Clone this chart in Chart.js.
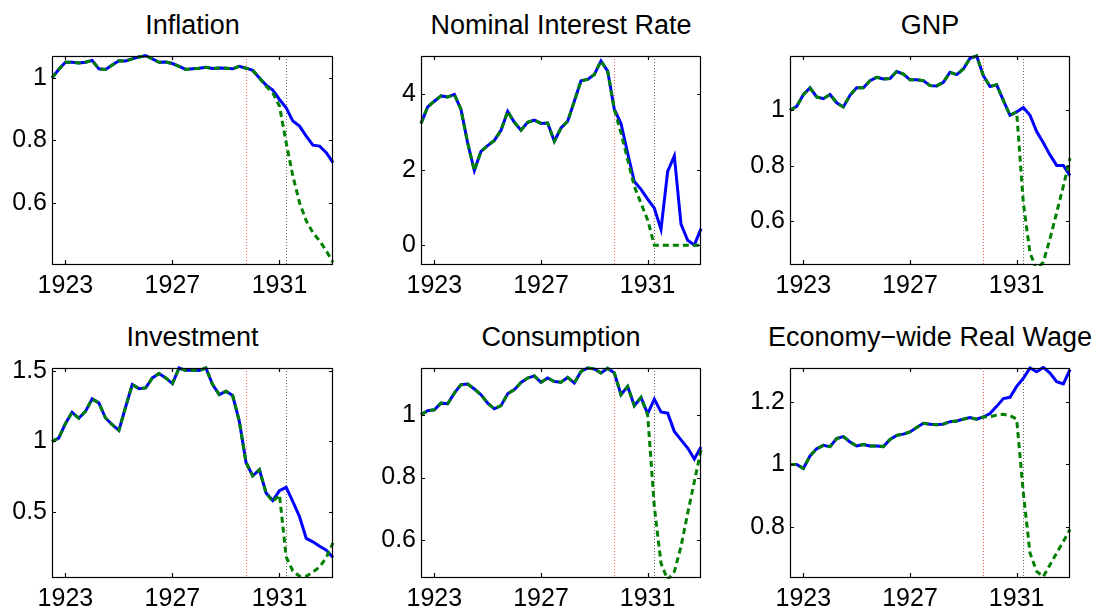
<!DOCTYPE html>
<html>
<head>
<meta charset="utf-8">
<script src="https://cdn.jsdelivr.net/npm/chart.js@4.4.1/dist/chart.umd.min.js"></script>
<style>
  html, body { margin: 0; padding: 0; background: #fff; }
  body { width: 1112px; height: 611px; position: relative; overflow: hidden;
         font-family: "Liberation Sans", Arial, Helvetica, sans-serif; }
  .panel { position: absolute; }
  .title { position: absolute; text-align: center; font-size: 27px; line-height: 30px;
           color: #000; white-space: nowrap; }
</style>
</head>
<body>
<script>
// Quarterly dates, 1922Q3 .. 1933Q1
const quarters = [
  1922.5, 1922.75, 1923, 1923.25, 1923.5, 1923.75, 1924, 1924.25, 1924.5, 1924.75,
  1925, 1925.25, 1925.5, 1925.75, 1926, 1926.25, 1926.5, 1926.75, 1927, 1927.25,
  1927.5, 1927.75, 1928, 1928.25, 1928.5, 1928.75, 1929, 1929.25, 1929.5, 1929.75,
  1930, 1930.25, 1930.5, 1930.75, 1931, 1931.25, 1931.5, 1931.75, 1932, 1932.25,
  1932.5, 1932.75, 1933
];
const yearTicks = [1923, 1927, 1931];
const breakDates = [1929.75, 1931.25];

// Inflation (price level index)
const inflationData = [
  1.0, 1.027, 1.05, 1.05, 1.048, 1.05, 1.056, 1.029, 1.027, 1.041,
  1.055, 1.054, 1.061, 1.067, 1.071, 1.061, 1.05, 1.051, 1.046, 1.037,
  1.027, 1.029, 1.031, 1.034, 1.03, 1.032, 1.031, 1.029, 1.037, 1.031,
  1.024, 1.0, 0.977, 0.961, 0.931, 0.904, 0.862, 0.846, 0.814, 0.785,
  0.782, 0.761, 0.729
];
const inflationModel = [
  1.0, 1.027, 1.05, 1.05, 1.048, 1.05, 1.056, 1.029, 1.027, 1.041,
  1.055, 1.054, 1.061, 1.067, 1.071, 1.061, 1.05, 1.051, 1.046, 1.037,
  1.027, 1.029, 1.031, 1.034, 1.03, 1.032, 1.031, 1.029, 1.037, 1.031,
  1.024, 1.0, 0.973, 0.952, 0.91, 0.793, 0.686, 0.601, 0.543, 0.505,
  0.479, 0.447, 0.41
];

// Nominal interest rate
const interestData = [
  3.23, 3.67, 3.82, 3.96, 3.93, 4.0, 3.6, 2.71, 1.98, 2.49,
  2.64, 2.78, 3.05, 3.55, 3.26, 3.05, 3.26, 3.32, 3.23, 3.24,
  2.76, 3.11, 3.29, 3.82, 4.36, 4.4, 4.53, 4.89, 4.62, 3.6,
  3.23, 2.44, 1.69, 1.48, 1.22, 0.98, 0.42, 1.96, 2.37, 0.56,
  0.13, 0.0, 0.44
];
const interestModel = [
  3.23, 3.67, 3.82, 3.96, 3.93, 4.0, 3.6, 2.71, 1.98, 2.49,
  2.64, 2.78, 3.05, 3.55, 3.26, 3.05, 3.26, 3.32, 3.23, 3.24,
  2.76, 3.11, 3.29, 3.82, 4.36, 4.4, 4.53, 4.89, 4.62, 3.6,
  2.98, 2.27, 1.56, 1.11, 0.67, 0.0, 0.0, 0.0, 0.0, 0.0,
  0.0, 0.0, 0.0
];

// GNP
const gnpData = [
  1.0, 1.014, 1.056, 1.081, 1.048, 1.042, 1.057, 1.027, 1.012, 1.054,
  1.081, 1.081, 1.107, 1.119, 1.113, 1.115, 1.14, 1.131, 1.11, 1.11,
  1.107, 1.089, 1.088, 1.101, 1.137, 1.129, 1.149, 1.188, 1.196, 1.125,
  1.086, 1.092, 1.036, 0.982, 0.994, 1.01, 0.982, 0.923, 0.883, 0.839,
  0.801, 0.801, 0.764
];
const gnpModel = [
  1.0, 1.014, 1.056, 1.081, 1.048, 1.042, 1.057, 1.027, 1.012, 1.054,
  1.081, 1.081, 1.107, 1.119, 1.113, 1.115, 1.14, 1.131, 1.11, 1.11,
  1.107, 1.089, 1.088, 1.101, 1.137, 1.129, 1.149, 1.188, 1.196, 1.125,
  1.086, 1.092, 1.036, 0.982, 0.994, 0.665, 0.485, 0.425, 0.452, 0.536,
  0.631, 0.726, 0.827
];

// Investment
const investmentData = [
  1.0, 1.024, 1.126, 1.206, 1.164, 1.213, 1.301, 1.273, 1.166, 1.118,
  1.078, 1.244, 1.403, 1.374, 1.379, 1.45, 1.481, 1.45, 1.41, 1.52,
  1.502, 1.505, 1.502, 1.52, 1.403, 1.332, 1.355, 1.325, 1.142, 0.851,
  0.756, 0.799, 0.635, 0.581, 0.652, 0.675, 0.574, 0.467, 0.313, 0.289,
  0.258, 0.23, 0.178
];
const investmentModel = [
  1.0, 1.024, 1.126, 1.206, 1.164, 1.213, 1.301, 1.273, 1.166, 1.118,
  1.078, 1.244, 1.403, 1.374, 1.379, 1.45, 1.481, 1.45, 1.41, 1.52,
  1.502, 1.505, 1.502, 1.52, 1.403, 1.332, 1.355, 1.325, 1.142, 0.851,
  0.756, 0.799, 0.635, 0.573, 0.622, 0.182, 0.083, 0.045, 0.045, 0.076,
  0.111, 0.178, 0.282
];

// Consumption
const consumptionData = [
  1.0, 1.013, 1.016, 1.037, 1.035, 1.069, 1.096, 1.098, 1.082, 1.064,
  1.037, 1.019, 1.029, 1.067, 1.08, 1.103, 1.117, 1.124, 1.103, 1.117,
  1.106, 1.104, 1.119, 1.101, 1.138, 1.149, 1.146, 1.133, 1.148, 1.133,
  1.064, 1.09, 1.029, 1.055, 1.003, 1.05, 1.009, 1.005, 0.947, 0.92,
  0.894, 0.859, 0.897
];
const consumptionModel = [
  1.0, 1.013, 1.016, 1.037, 1.035, 1.069, 1.096, 1.098, 1.082, 1.064,
  1.037, 1.019, 1.029, 1.067, 1.08, 1.103, 1.117, 1.124, 1.103, 1.117,
  1.106, 1.104, 1.119, 1.101, 1.138, 1.149, 1.146, 1.133, 1.148, 1.133,
  1.064, 1.09, 1.029, 1.055, 1.0, 0.707, 0.527, 0.474, 0.5, 0.58,
  0.686, 0.787, 0.888
];

// Economy-wide real wage
const wageData = [
  1.0, 1.0, 0.987, 1.027, 1.05, 1.061, 1.057, 1.083, 1.089, 1.072,
  1.059, 1.064, 1.059, 1.059, 1.057, 1.08, 1.093, 1.097, 1.104, 1.118,
  1.132, 1.129, 1.127, 1.129, 1.137, 1.139, 1.145, 1.15, 1.145, 1.152,
  1.163, 1.186, 1.211, 1.215, 1.25, 1.276, 1.309, 1.297, 1.311, 1.293,
  1.265, 1.258, 1.304
];
const wageModel = [
  1.0, 1.0, 0.987, 1.027, 1.05, 1.061, 1.057, 1.083, 1.089, 1.072,
  1.059, 1.064, 1.059, 1.059, 1.057, 1.08, 1.093, 1.097, 1.104, 1.118,
  1.132, 1.129, 1.127, 1.129, 1.137, 1.139, 1.145, 1.15, 1.145, 1.152,
  1.153, 1.158, 1.161, 1.156, 1.145, 0.909, 0.716, 0.657, 0.64, 0.678,
  0.716, 0.753, 0.791
];

const panels = [
  { title: 'Inflation', data: inflationData, model: inflationModel,
    yMin: 0.405, yMax: 1.07, yTicks: [0.6, 0.8, 1], col: 0, row: 0 },
  { title: 'Nominal Interest Rate', data: interestData, model: interestModel,
    yMin: -0.5, yMax: 5.02, yTicks: [0, 2, 4], col: 1, row: 0 },
  { title: 'GNP', data: gnpData, model: gnpModel,
    yMin: 0.445, yMax: 1.196, yTicks: [0.6, 0.8, 1], col: 2, row: 0 },
  { title: 'Investment', data: investmentData, model: investmentModel,
    yMin: 0.04, yMax: 1.52, yTicks: [0.5, 1, 1.5], col: 0, row: 1 },
  { title: 'Consumption', data: consumptionData, model: consumptionModel,
    yMin: 0.483, yMax: 1.149, yTicks: [0.6, 0.8, 1], col: 1, row: 1 },
  { title: 'Economy\u2212wide Real Wage', data: wageData, model: wageModel,
    yMin: 0.639, yMax: 1.309, yTicks: [0.8, 1, 1.2], col: 2, row: 1 }
];

// Subplot geometry (plot-area edges in page pixels)
const colLeft = [52, 421, 790];
const colRight = [333, 701, 1070];
const rowTop = [56, 368];
const rowBottom = [264, 577];
const AXIS_W = 52, AXIS_H = 40, PAD_TOP = 22, PAD_RIGHT = 10;
const FONT = '"Liberation Sans", Arial, Helvetica, sans-serif';

// vertical dotted markers behind the series
const breakLines = {
  id: 'breakLines',
  beforeDatasetsDraw(chart) {
    const { ctx, chartArea: a, scales: { x } } = chart;
    const colors = ['rgba(255,40,40,0.75)', 'rgba(0,0,0,0.6)'];
    ctx.save();
    ctx.lineWidth = 1;
    ctx.setLineDash([1, 2]);
    breakDates.forEach((d, i) => {
      const px = Math.round(x.getPixelForValue(d)) + 0.5;
      ctx.strokeStyle = colors[i];
      ctx.beginPath();
      ctx.moveTo(px, a.top);
      ctx.lineTo(px, a.bottom);
      ctx.stroke();
    });
    ctx.restore();
  }
};

// box around the axes with inward tick marks on all four sides
const axesBox = {
  id: 'axesBox',
  afterDatasetsDraw(chart) {
    const { ctx, chartArea: a, scales: { x, y } } = chart;
    const len = 4;
    ctx.save();
    ctx.strokeStyle = '#000';
    ctx.lineWidth = 1.2;
    ctx.strokeRect(a.left + 0.5, a.top + 0.5, a.right - a.left - 1, a.bottom - a.top);
    ctx.beginPath();
    x.ticks.forEach(t => {
      const px = Math.round(x.getPixelForValue(t.value)) + 0.5;
      ctx.moveTo(px, a.bottom); ctx.lineTo(px, a.bottom - len);
      ctx.moveTo(px, a.top); ctx.lineTo(px, a.top + len);
    });
    y.ticks.forEach(t => {
      const py = Math.round(y.getPixelForValue(t.value)) + 0.5;
      ctx.moveTo(a.left, py); ctx.lineTo(a.left + len, py);
      ctx.moveTo(a.right, py); ctx.lineTo(a.right - len, py);
    });
    ctx.stroke();
    ctx.restore();
  }
};

function makePanel(p) {
  const left = colLeft[p.col], right = colRight[p.col];
  const top = rowTop[p.row], bottom = rowBottom[p.row];

  const title = document.createElement('div');
  title.className = 'title';
  title.textContent = p.title;
  title.style.left = (left - 60) + 'px';
  title.style.width = (right - left + 120) + 'px';
  title.style.top = (top - 46) + 'px';
  document.body.appendChild(title);

  const box = document.createElement('div');
  box.className = 'panel';
  box.style.left = (left - AXIS_W) + 'px';
  box.style.top = (top - PAD_TOP) + 'px';
  box.style.width = (right - left + AXIS_W + PAD_RIGHT) + 'px';
  box.style.height = (bottom - top + PAD_TOP + AXIS_H) + 'px';
  const canvas = document.createElement('canvas');
  box.appendChild(canvas);
  document.body.appendChild(box);

  new Chart(canvas, {
    type: 'line',
    data: {
      datasets: [
        {
          label: 'Data',
          data: quarters.map((q, i) => ({ x: q, y: p.data[i] })),
          borderColor: '#0000ff',
          borderWidth: 3,
          pointRadius: 0,
          tension: 0,
          order: 1,
          clip: 2
        },
        {
          label: 'Model',
          data: quarters.map((q, i) => ({ x: q, y: p.model[i] })),
          borderColor: '#008000',
          borderWidth: 3,
          borderDash: [6, 4],
          pointRadius: 0,
          tension: 0,
          order: 0,
          clip: 2
        }
      ]
    },
    options: {
      responsive: true,
      maintainAspectRatio: false,
      animation: false,
      events: [],
      layout: { padding: { left: 0, top: PAD_TOP, right: PAD_RIGHT, bottom: 0 } },
      plugins: { legend: { display: false }, tooltip: { enabled: false } },
      scales: {
        x: {
          type: 'linear',
          min: quarters[0],
          max: quarters[quarters.length - 1],
          afterBuildTicks: s => { s.ticks = yearTicks.map(v => ({ value: v })); },
          afterFit: s => { s.height = AXIS_H; },
          grid: { display: false, drawTicks: false },
          border: { display: false },
          ticks: {
            color: '#000',
            padding: 7,
            maxRotation: 0,
            autoSkip: false,
            font: { family: FONT, size: 25 },
            callback: v => String(v)
          }
        },
        y: {
          type: 'linear',
          min: p.yMin,
          max: p.yMax,
          afterBuildTicks: s => { s.ticks = p.yTicks.map(v => ({ value: v })); },
          afterFit: s => { s.width = AXIS_W; },
          grid: { display: false, drawTicks: false },
          border: { display: false },
          ticks: {
            color: '#000',
            padding: 5,
            font: { family: FONT, size: 25 },
            callback: v => String(v)
          }
        }
      }
    },
    plugins: [breakLines, axesBox]
  });
}

panels.forEach(makePanel);
</script>
</body>
</html>
